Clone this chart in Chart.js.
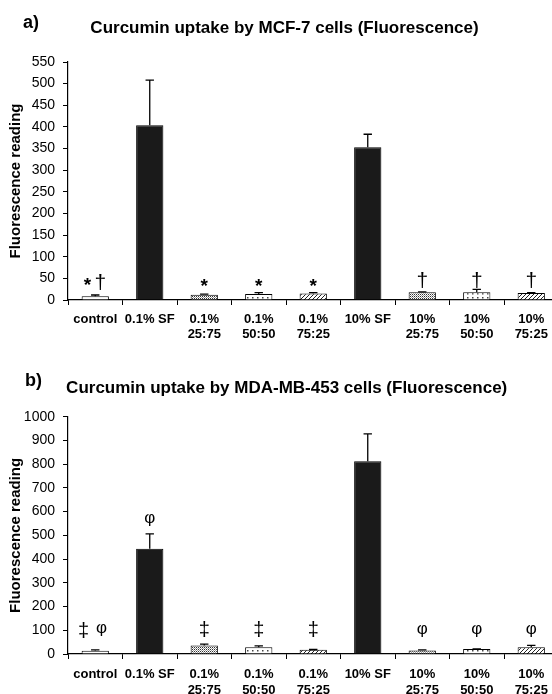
<!DOCTYPE html>
<html>
<head>
<meta charset="utf-8">
<script src="https://cdn.jsdelivr.net/npm/chart.js@4"></script>
<style>
html,body{margin:0;padding:0;background:#fff;overflow:hidden;width:552px;height:694px;}
.wrap{position:absolute;left:0;width:600px;}
#wa{top:0;height:345px;}
#wb{top:345px;height:349px;}
canvas{display:block;}
</style>
</head>
<body>
<div class="wrap" id="wa"><canvas id="ca" width="600" height="345"></canvas></div>
<div class="wrap" id="wb"><canvas id="cb" width="600" height="349"></canvas></div>
<script>
// ---- data ----
const categories = ["control", "0.1% SF", ["0.1%","25:75"], ["0.1%","50:50"], ["0.1%","75:25"], "10% SF", ["10%","25:75"], ["10%","50:50"], ["10%","75:25"]];
const fillKinds = ["open","solid","densedot","sparsedot","hatch","solid","densedot","sparsedot","hatch"];

const titleA = "Curcumin uptake by MCF-7 cells (Fluorescence)";
const panelA = "a)";
const valuesA = [8.5, 404, 12, 14, 15, 353, 18, 18, 16];
const errorsA = [3, 104, 1.5, 3, 2, 30, 1, 6.5, 1];
const marksA = [["*","†"], [], ["*"], ["*"], ["*"], [], ["†"], ["†"], ["†"]];
const markLevelA = [42, null, 40, 40, 40, null, 47, 47, 47];
const yMaxA = 550, yStepA = 50;

const titleB = "Curcumin uptake by MDA-MB-453 cells (Fluorescence)";
const panelB = "b)";
const valuesB = [14, 444, 36, 28, 18, 812, 15, 21, 28];
const errorsB = [3, 62, 6, 6, 1, 116, 2, 1, 8];
const marksB = [["‡","φ"], ["φ"], ["‡"], ["‡"], ["‡"], [], ["φ"], ["φ"], ["φ"]];
const markLevelB = [103, 565, 105, 105, 105, null, 101, 101, 101];
const yMaxB = 1000, yStepB = 100;

const yTitle = "Fluorescence reading";

// ---- styles ----
const FONT = "'Liberation Sans', Arial, Helvetica, sans-serif";
Chart.defaults.font.family = FONT;
Chart.defaults.color = "#000";

function makePattern(kind){
  const c = document.createElement('canvas');
  const g = c.getContext('2d');
  if(kind === 'densedot'){
    c.width = 2; c.height = 2;
    g.fillStyle = '#fff'; g.fillRect(0,0,2,2);
    g.fillStyle = '#333'; g.fillRect(0,0,1,1);
    g.fillStyle = '#999'; g.fillRect(1,1,1,1);
  } else if(kind === 'sparsedot'){
    c.width = 5; c.height = 4;
    g.fillStyle = '#fff'; g.fillRect(0,0,5,4);
    g.fillStyle = '#444'; g.fillRect(2,1,1.5,1.5);
  } else if(kind === 'hatch'){
    c.width = 4; c.height = 4;
    g.fillStyle = '#fff'; g.fillRect(0,0,4,4);
    g.strokeStyle = '#222'; g.lineWidth = 1;
    g.beginPath(); g.moveTo(-1,5); g.lineTo(5,-1); g.stroke();
    g.beginPath(); g.moveTo(-1,1); g.lineTo(1,-1); g.stroke();
    g.beginPath(); g.moveTo(3,5); g.lineTo(5,3); g.stroke();
  }
  return g.createPattern(c, 'repeat');
}
function fills(){
  return fillKinds.map(k => k === 'open' ? '#fff' : k === 'solid' ? '#1a1a1a' : makePattern(k));
}

const markFont = { '*': 'bold 19px ', '†': '21px ', '‡': '20px ', 'φ': '17px ' };

const extras = {
  id: 'extras',
  afterDatasetsDraw(chart, args, opts){
    const ctx = chart.ctx;
    const ys = chart.scales.y;
    const meta = chart.getDatasetMeta(0);
    const vals = opts.values, errs = opts.errors;
    ctx.save();
    ctx.strokeStyle = '#000';
    ctx.lineWidth = 1.3;
    meta.data.forEach((bar, i) => {
      const x = bar.x;
      const y0 = ys.getPixelForValue(vals[i]);
      const y1 = ys.getPixelForValue(vals[i] + errs[i]);
      ctx.beginPath();
      ctx.moveTo(x, y0); ctx.lineTo(x, y1);
      ctx.moveTo(x - 4.2, y1); ctx.lineTo(x + 4.2, y1);
      ctx.stroke();
    });
    // significance marks
    ctx.fillStyle = '#000';
    ctx.textAlign = 'center';
    ctx.textBaseline = 'alphabetic';
    meta.data.forEach((bar, i) => {
      const m = opts.marks[i];
      if(!m || !m.length || opts.levels[i] == null) return;
      const yc = ys.getPixelForValue(opts.levels[i]);
      const n = m.length;
      m.forEach((s, j) => {
        const x = bar.x + opts.groupShift * (n > 1 ? 1 : 0) + (j - (n - 1) / 2) * opts.gap;
        ctx.font = (markFont[s] || '17px ') + FONT;
        const mt = ctx.measureText(s);
        const base = yc + (mt.actualBoundingBoxAscent + mt.actualBoundingBoxDescent) / 2 - mt.actualBoundingBoxDescent;
        ctx.fillText(s, x, base);
      });
    });
    ctx.restore();
  },
  afterDraw(chart, args, opts){
    const ctx = chart.ctx;
    ctx.save();
    ctx.fillStyle = '#000';
    ctx.textBaseline = 'alphabetic';
    ctx.textAlign = 'left';
    ctx.font = 'bold 18px ' + FONT;
    ctx.fillText(opts.panel, opts.panelX, opts.panelY);
    ctx.textAlign = 'center';
    ctx.font = 'bold 17px ' + FONT;
    ctx.fillText(opts.title, opts.titleX, opts.titleY);
    ctx.restore();
  }
};

function build(id, vals, errs, marks, levels, ymax, ystep, top, xH, tickPad, lineH, ex){
  return new Chart(document.getElementById(id), {
    type: 'bar',
    data: {
      labels: categories,
      datasets: [{
        data: vals,
        backgroundColor: fills(),
        borderColor: '#000',
        borderWidth: 1,
        categoryPercentage: 1.0,
        barPercentage: 0.5
      }]
    },
    options: {
      responsive: false,
      animation: false,
      events: [],
      layout: { padding: { top: top, left: 0, right: 41.5, bottom: 0 } },
      plugins: {
        legend: { display: false },
        tooltip: { enabled: false },
        title: { display: false },
        extras: Object.assign({ values: vals, errors: errs, marks: marks, levels: levels }, ex)
      },
      scales: {
        x: {
          type: 'category',
          offset: true,
          grid: { display: true, offset: true, drawOnChartArea: false, drawTicks: true, tickLength: 5, color: '#000', lineWidth: 1 },
          border: { display: true, color: '#000', width: 1.2 },
          ticks: { autoSkip: false, maxRotation: 0, minRotation: 0, padding: tickPad, color: '#000',
                   font: { size: 13, weight: 'bold', lineHeight: lineH } },
          afterFit(s){ s.height = xH; }
        },
        y: {
          min: 0, max: ymax,
          grid: { display: true, drawOnChartArea: false, drawTicks: true, tickLength: 5, color: '#000', lineWidth: 1 },
          border: { display: true, color: '#000', width: 1.2 },
          ticks: { stepSize: ystep, padding: 8, color: '#000', font: { size: 14 },
                   callback: v => String(v) },
          title: { display: true, text: yTitle, color: '#000', padding: { top: 7, bottom: 0 },
                   font: { size: 15, weight: 'bold', lineHeight: 1.2 } },
          afterFit(s){ s.width = 68; }
        }
      }
    },
    plugins: [extras]
  });
}

build('ca', valuesA, errorsA, marksA, markLevelA, yMaxA, yStepA, 62, 45, 6.5, 1.15,
      { panel: panelA, title: titleA, panelX: 23, panelY: 28, titleX: 284.5, titleY: 33, gap: 13, groupShift: -1.3 });
build('cb', valuesB, errorsB, marksB, markLevelB, yMaxB, yStepB, 71.7, 40, 7.5, 1.25,
      { panel: panelB, title: titleB, panelX: 25, panelY: 41, titleX: 286.7, titleY: 48.3, gap: 18, groupShift: -2.7 });
</script>
</body>
</html>
